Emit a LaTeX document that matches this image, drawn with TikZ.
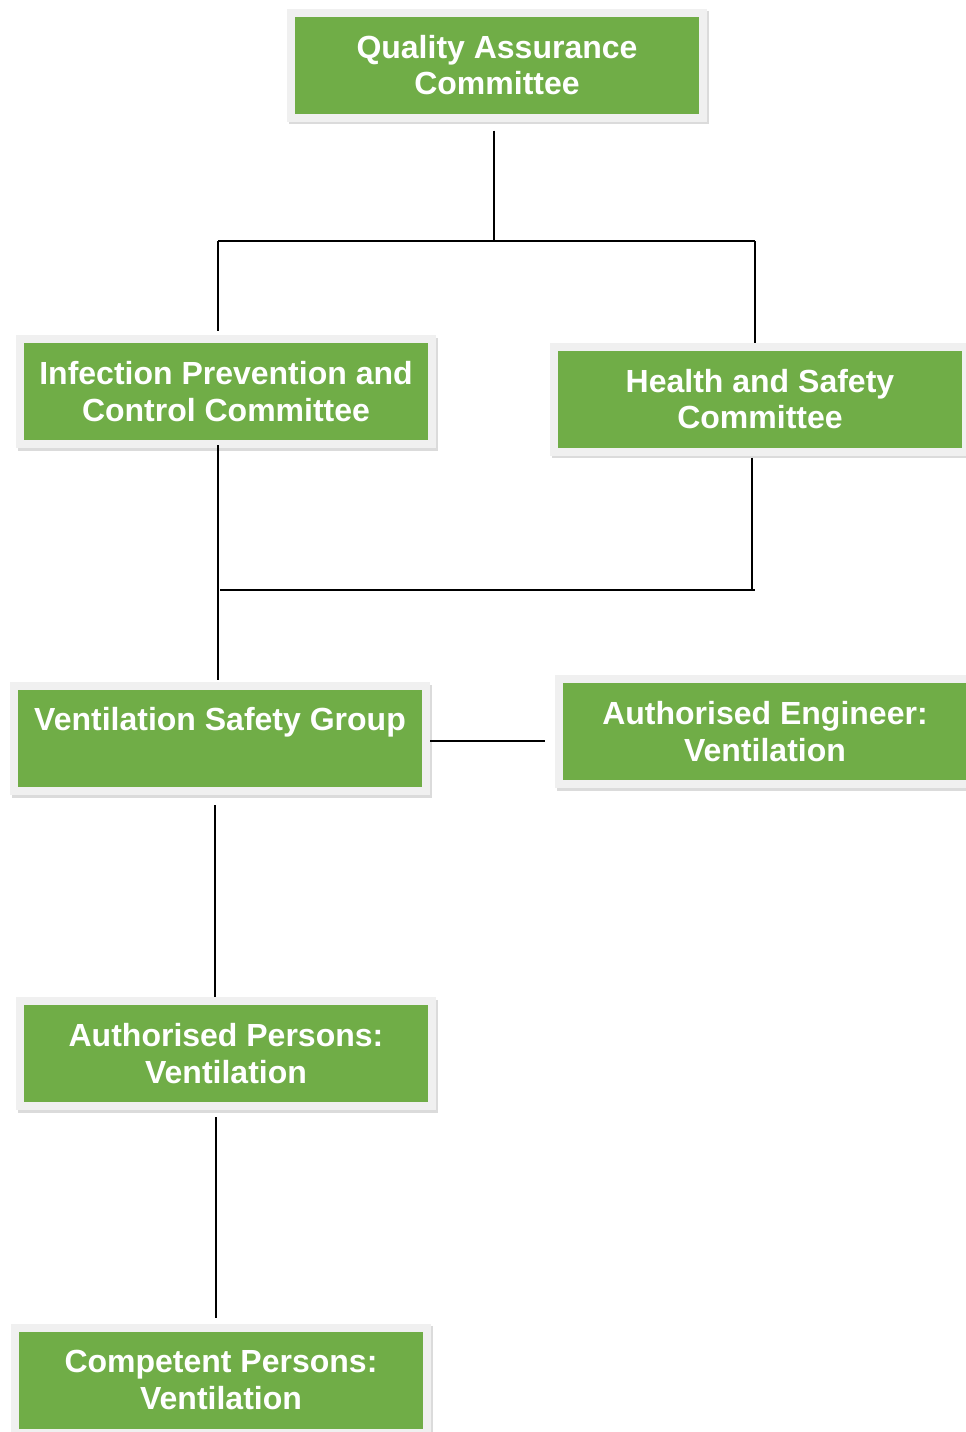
\documentclass[tikz,border=0pt]{standalone}
\usepackage{fontspec}
\setmainfont{Liberation Sans}
\usetikzlibrary{shadows}
\definecolor{boxgreen}{HTML}{70AD47}
\definecolor{boxgray}{HTML}{F0F0F0}
\tikzset{
  orgbox/.style={
    fill=boxgray, draw=none, rectangle, inner sep=0pt, outer sep=0pt,
    minimum width=315pt, minimum height=84.75pt,
    text=white, align=center,
    font=\bfseries\fontsize{24}{27.6}\selectfont,
    drop shadow={shadow xshift=1.5pt, shadow yshift=-2.2pt, opacity=0.14, fill=black},
    path picture={\fill[boxgreen] ([shift={(6pt,6pt)}]path picture bounding box.south west) rectangle ([shift={(-6pt,-6pt)}]path picture bounding box.north east);}
  },
  conn/.style={draw=black, line width=1pt}
}
\begin{document}
\begin{tikzpicture}[x=0.75pt,y=-0.75pt]
\useasboundingbox (0,0) rectangle (966,1432);
\node[orgbox] (qac) at (497,65) {Quality Assurance\\Committee};
\node[orgbox] (ipc) at (226,391.5) {Infection Prevention and\\Control Committee};
\node[orgbox] (hsc) at (760,399) {Health and Safety\\Committee};
\node[orgbox] (vsg) at (220,738.5) {Ventilation Safety Group\\[-6pt]\strut};
\node[orgbox] (ae) at (765,731.5) {Authorised Engineer:\\Ventilation};
\node[orgbox] (apv) at (226,1053.5) {Authorised Persons:\\Ventilation};
\node[orgbox] (cpv) at (221,1380) {Competent Persons:\\Ventilation};

\coordinate (jq) at (494,241);
\coordinate (jl) at (218,241);
\coordinate (jr) at (755,241);
\coordinate (jb) at (220,590);
\coordinate (jbr) at (755,590);
\coordinate (jh) at (752,590);
\coordinate (jv) at (215,900);
\coordinate (ja) at (216,1200);

\draw[conn, shorten <=6.75pt] (jq |- qac.south) -- (jq);
\draw[conn] (jl) -- (jr);
\draw[conn, shorten >=3pt] (jl) -- (jl |- ipc.north);
\draw[conn] (jr) -- (jr |- hsc.north);
\draw[conn, shorten <=-2pt, shorten >=1.5pt] (jl |- ipc.south) -- (jl |- vsg.north);
\draw[conn, shorten <=1.5pt] (jh |- hsc.south) -- (jh);
\draw[conn] (jb) -- (jbr);
\draw[conn, shorten >=7.5pt] ([yshift=-1.9pt]vsg.east) -- ([yshift=-1.9pt]vsg.east -| ae.west);
\draw[conn, shorten <=7.5pt] (jv |- vsg.south) -- (jv |- apv.north);
\draw[conn, shorten <=5.25pt, shorten >=4.5pt] (ja |- apv.south) -- (ja |- cpv.north);
\end{tikzpicture}
\end{document}
